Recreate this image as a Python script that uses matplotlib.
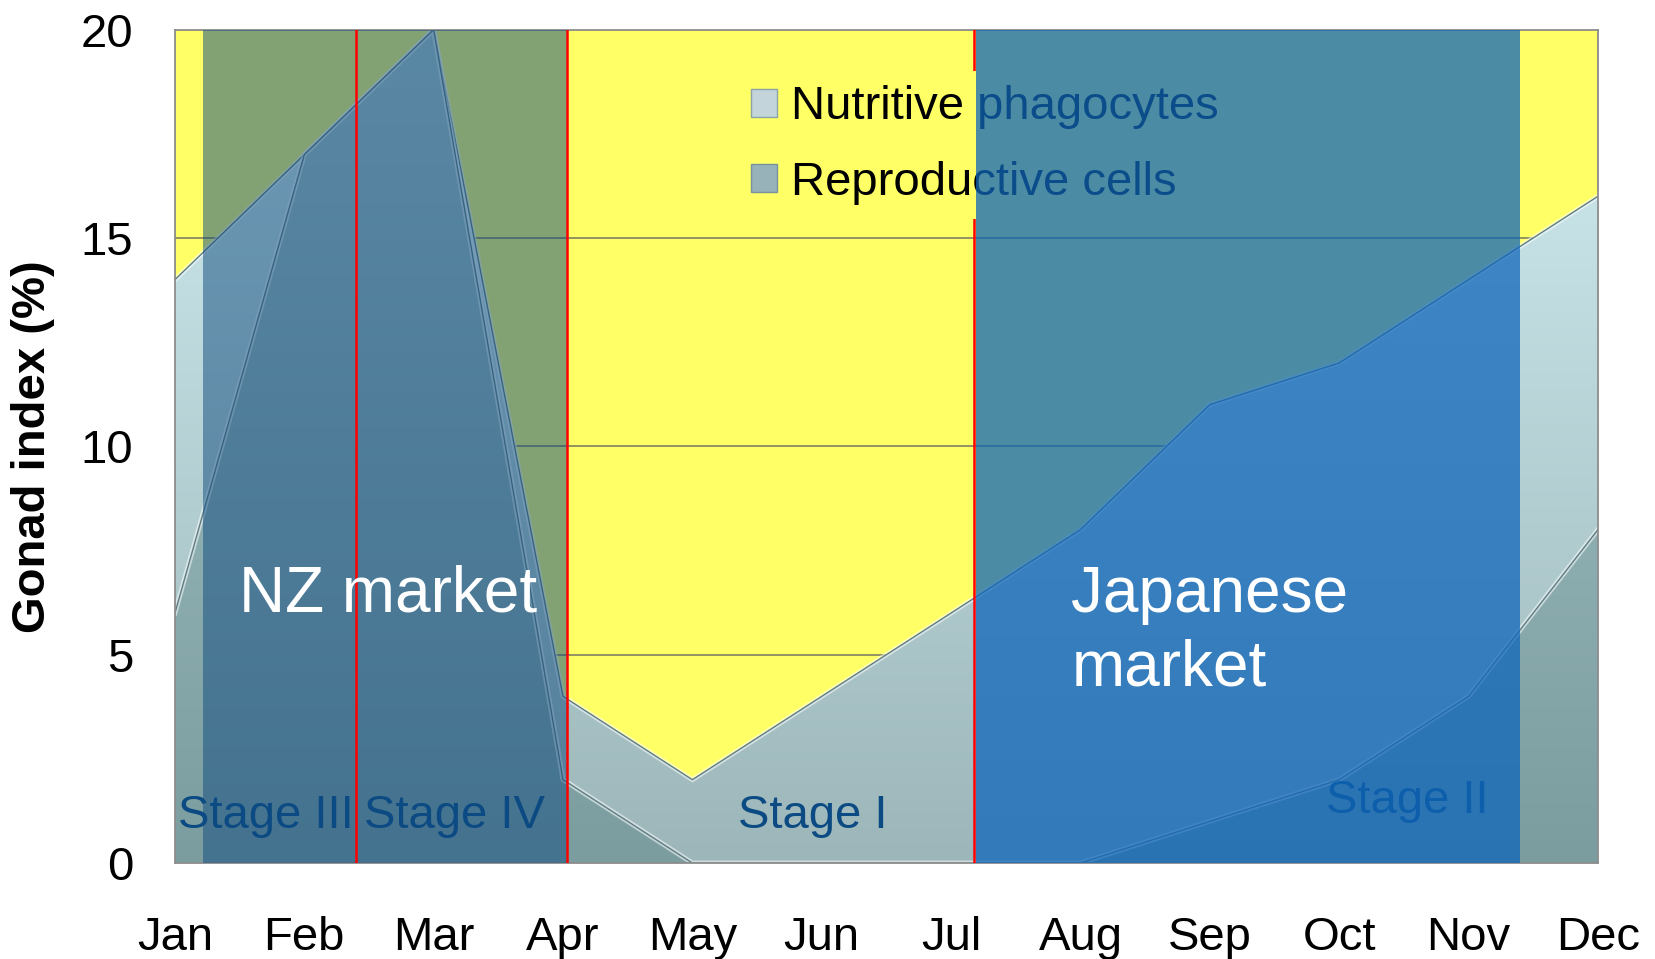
import numpy as np
import matplotlib
matplotlib.use("Agg")
import matplotlib.pyplot as plt
from matplotlib.colors import LinearSegmentedColormap
from matplotlib.patches import Polygon, Rectangle, Patch

plt.rcParams['font.family'] = ['Liberation Sans', 'DejaVu Sans']

# data
months = ['Jan', 'Feb', 'Mar', 'Apr', 'May', 'Jun', 'Jul', 'Aug', 'Sep', 'Oct', 'Nov', 'Dec']
nutritive = [14, 17, 20, 4, 2, 4, 6, 8, 11, 12, 14, 16]
reproductive = [6, 17, 20, 2, 0, 0, 0, 0, 1, 2, 4, 8]
series_labels = ['Nutritive phagocytes', 'Reproductive cells']
stage_bounds = [1.397, 3.03, 6.18]      # red stage separators (month index)
nz_market = (0.22, 3.03)
jp_market = (6.19, 10.40)

x = np.arange(len(months))

fig = plt.figure(figsize=(16.55, 9.59), dpi=100)
ax = fig.add_axes([0.1057, 0.1001, 0.8598, 0.869])
ax.set_facecolor('#FFFF66')
ax.set_xlim(0, len(months) - 1)
ax.set_ylim(0, 20)

# horizontal gridlines
for yv in [5, 10, 15]:
    ax.axhline(yv, color='#8a8a62', lw=1.3, zorder=1.5)


def gradient_area(vals, top_col, bot_col, z):
    cmap = LinearSegmentedColormap.from_list('g', [bot_col, top_col])
    grad = np.linspace(0, 1, 256).reshape(-1, 1)
    im = ax.imshow(grad, cmap=cmap, origin='lower', aspect='auto',
                   extent=[0, len(months) - 1, 0, 20], zorder=z, interpolation='bilinear')
    verts = list(zip(x, vals)) + [(x[-1], 0), (x[0], 0)]
    poly = Polygon(verts, closed=True, facecolor='none', edgecolor='none')
    ax.add_patch(poly)
    im.set_clip_path(poly)
    # bevel look: light highlight plus a thin dark outline
    ax.plot(x, vals, color='white', lw=3.5, alpha=0.55, zorder=z + 0.05,
            solid_joinstyle='miter')
    ax.plot(x, vals, color='#5d7d83', lw=1.0, zorder=z + 0.1)


gradient_area(nutritive, '#D2EEF2', '#9CB6B9', 2)
gradient_area(reproductive, '#A8C8CC', '#7C9DA0', 2.3)

# stage separators: the two in the NZ window sit on top, July one below the legend
ax.axvline(stage_bounds[0], color='#FF0000', lw=1.8, zorder=7)
ax.axvline(stage_bounds[1], color='#FF0000', lw=1.8, zorder=7)
ax.axvline(stage_bounds[2], color='#FF0000', lw=1.8, zorder=3)

# legend
handles = [Patch(facecolor='#C3D5DA', edgecolor='#8aa2a8'),
           Patch(facecolor='#97B2B8', edgecolor='#7892a0')]
leg = ax.legend(handles, series_labels, loc='upper left', bbox_to_anchor=(0.395, 0.950),
                borderaxespad=0, fontsize=34, frameon=True, facecolor='#FFFF66',
                edgecolor='none', framealpha=1, fancybox=False, borderpad=0.3,
                handlelength=0.55, handleheight=0.55, handletextpad=0.3, labelspacing=0.66)
leg.set_zorder(4)

# market overlays
ax.add_patch(Rectangle((nz_market[0], 0), nz_market[1] - nz_market[0], 20,
                       facecolor=(0.07, 0.30, 0.50), alpha=0.52, edgecolor='none', zorder=5))
ax.add_patch(Rectangle((jp_market[0], 0), jp_market[1] - jp_market[0], 20,
                       facecolor=(0.06, 0.40, 0.73), alpha=0.75, edgecolor='none', zorder=6))

# stage labels
stage_col = '#0B4A82'
ax.text(0.70, 1.12, 'Stage III', fontsize=34, color=stage_col, ha='center', va='center', zorder=7)
ax.text(2.16, 1.12, 'Stage IV', fontsize=34, color=stage_col, ha='center', va='center', zorder=7)
ax.text(4.93, 1.12, 'Stage I', fontsize=34, color=stage_col, ha='center', va='center', zorder=7)
ax.text(9.53, 1.5, 'Stage II', fontsize=34, color=stage_col, ha='center', va='center', zorder=5.5)

ax.text(1.65, 6.45, 'NZ market', fontsize=46, color='white', ha='center', va='center', zorder=8)
ax.text(6.93, 5.55, 'Japanese\nmarket', fontsize=46, color='white', ha='left', va='center',
        linespacing=1.3, zorder=8)

ax.set_xticks(x)
ax.set_xticklabels(months)
ax.set_yticks([0, 5, 10, 15, 20])
ax.tick_params(axis='both', length=0, labelsize=34)
ax.tick_params(axis='x', pad=38)
ax.tick_params(axis='y', pad=30)
ax.set_ylabel('Gonad index (%)', fontsize=34, fontweight='bold', labelpad=20)
ax.yaxis.set_label_coords(-0.084, 0.5)

for s in ax.spines.values():
    s.set_color('#8c8c8c')
    s.set_linewidth(1.3)

fig.savefig('out.png', dpi=100)
